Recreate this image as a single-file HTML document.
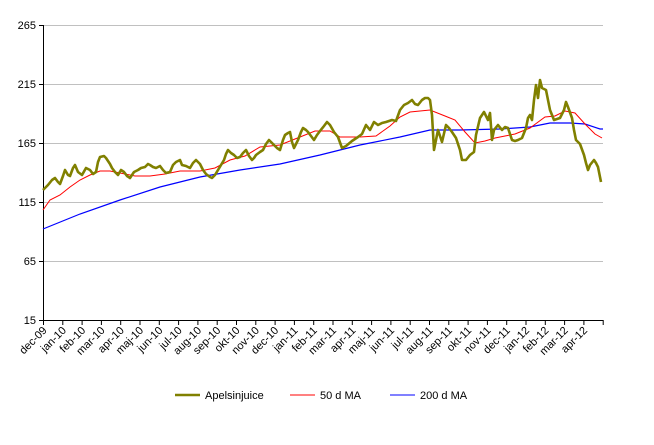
<!DOCTYPE html>
<html><head><meta charset="utf-8"><style>body{margin:0;background:#fff}svg{display:block}text{font-family:"Liberation Sans",Arial,sans-serif;font-size:11px;fill:#000}</style></head><body>
<svg width="654" height="445" viewBox="0 0 654 445">
<g stroke="#c0c0c0" stroke-width="1">
<line x1="43" y1="25.5" x2="603" y2="25.5"/><line x1="43" y1="84.5" x2="603" y2="84.5"/><line x1="43" y1="143.5" x2="603" y2="143.5"/><line x1="43" y1="202.5" x2="603" y2="202.5"/><line x1="43" y1="261.5" x2="603" y2="261.5"/>
</g>
<g stroke="#000" stroke-width="1">
<line x1="43.5" y1="25" x2="43.5" y2="320"/><line x1="43" y1="320.5" x2="603" y2="320.5"/>
<line x1="39" y1="25.5" x2="43" y2="25.5"/><line x1="39" y1="84.5" x2="43" y2="84.5"/><line x1="39" y1="143.5" x2="43" y2="143.5"/><line x1="39" y1="202.5" x2="43" y2="202.5"/><line x1="39" y1="261.5" x2="43" y2="261.5"/><line x1="39" y1="320.5" x2="43" y2="320.5"/>
</g>
<g text-anchor="end"><text x="36" y="29">265</text><text x="36" y="88">215</text><text x="36" y="147">165</text><text x="36" y="206">115</text><text x="36" y="265">65</text><text x="36" y="324">15</text></g>
<g id="ticks" stroke="#000"></g>
<g id="labs"></g>
<polyline fill="none" stroke="#0000ff" stroke-width="1.2" points="43,229 80,214 120,200 160,187 200,177 240,170 280,164 320,155 360,145 400,137 430,130 460,130 500,129 530,127 550,123 570,123 585,124 600,129 603,129"/>
<polyline fill="none" stroke="#ff0000" stroke-width="1" points="43,210 50,200 60,195 70,187 80,180 90,175 100,171 110,171 120,173 135,176 150,176 165,174 180,171 200,171 215,168 230,160 245,156 260,147 280,145 300,137 315,131 330,131 340,137 350,137 360,137 376,136 390,126 400,117 410,112 430,110 445,116 455,120 465,132 475,143 485,141 495,138 505,136 515,134 530,128 545,117 555,116 565,111 575,113 585,124 595,134 602,138"/>
<polyline fill="none" stroke="#808000" stroke-width="2.6" stroke-linejoin="round" points="43,190 48,185 52,180 55,178 58,182 60,184 63,176 65,170 68,175 70,176 73,168 75,165 78,172 82,175 86,168 90,170 93,174 96,172 98,162 100,157 104,156 106,158 110,164 112,168 115,172 118,175 121,170 124,172 127,176 130,178 134,172 138,170 141,168 145,167 148,164 150,165 153,167 156,168 160,166 163,170 166,173 170,172 173,165 176,162 180,160 182,165 186,166 190,168 193,163 196,160 200,164 203,170 206,174 210,177 212,178 215,175 218,170 221,165 224,160 226,154 228,150 231,153 234,155 237,158 240,157 243,153 246,150 249,156 252,160 254,158 256,155 260,152 263,150 266,144 269,140 272,143 274,145 277,148 280,150 283,140 285,135 288,133 290,132 292,142 294,148 296,144 298,140 301,132 303,128 306,130 308,132 311,136 314,140 317,135 320,131 324,126 327,122 330,125 334,132 338,137 342,148 346,146 352,141 358,137 362,134 366,125 370,130 374,122 378,125 382,123 386,122 392,120 396,121 400,110 404,105 408,103 412,100 415,104 418,105 422,100 425,98 428,98 430,100 432,115 434,150 436,140 438,130 442,142 446,125 449,128 452,132 456,138 460,150 462,160 466,160 470,155 474,152 476,135 480,118 484,112 488,120 490,113 492,140 494,130 498,125 502,130 505,127 508,128 512,140 515,141 518,140 522,138 526,128 528,118 530,115 532,120 534,100 536,85 538,98 540,80 542,88 546,90 548,100 550,110 554,120 557,119 560,118 564,110 566,102 568,107 572,118 574,130 576,140 580,144 584,155 586,163 588,170 590,165 594,160 596,163 598,167 601,182"/>
<g stroke-width="2.6"><line x1="175" y1="395" x2="200" y2="395" stroke="#808000"/></g>
<line x1="290" y1="395" x2="315" y2="395" stroke="#ff0000"/>
<line x1="390" y1="395" x2="415" y2="395" stroke="#0000ff"/>
<text x="205" y="399">Apelsinjuice</text><text x="320" y="399">50 d MA</text><text x="420" y="399">200 d MA</text>
</svg>
<script>
var L=["dec-09","jan-10","feb-10","mar-10","apr-10","maj-10","jun-10","jul-10","aug-10","sep-10","okt-10","nov-10","dec-10","jan-11","feb-11","mar-11","apr-11","maj-11","jun-11","jul-11","aug-11","sep-11","okt-11","nov-11","dec-11","jan-12","feb-12","mar-12","apr-12"];
var t=document.getElementById("ticks"),g=document.getElementById("labs"),ns="http://www.w3.org/2000/svg";
for(var i=0;i<30;i++){var x=43.5+i*19.3;var l=document.createElementNS(ns,"line");l.setAttribute("x1",x);l.setAttribute("x2",x);l.setAttribute("y1",320);l.setAttribute("y2",325);t.appendChild(l);}
for(var i=0;i<L.length;i++){var x=43.5+i*19.3;var e=document.createElementNS(ns,"text");e.setAttribute("text-anchor","end");e.setAttribute("transform","translate("+(x+4)+",331) rotate(-45)");e.textContent=L[i];g.appendChild(e);}
</script>
</body></html>
